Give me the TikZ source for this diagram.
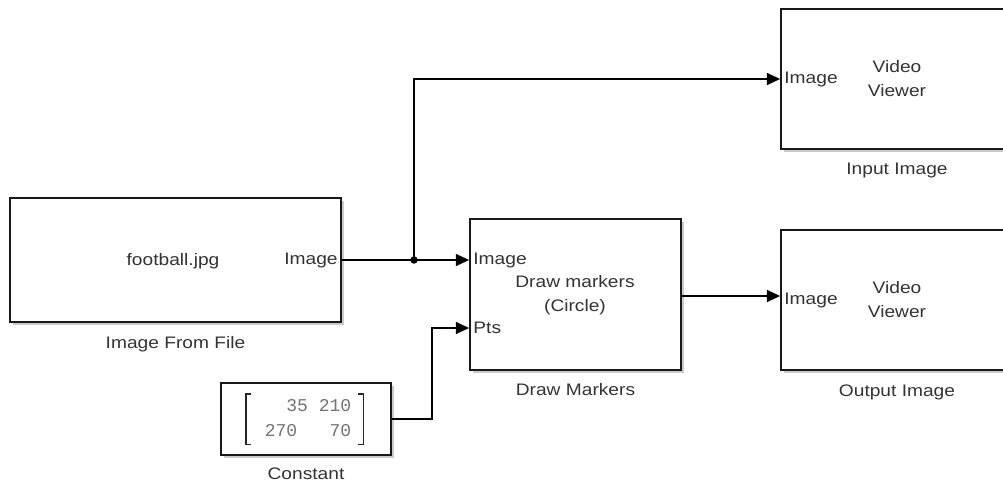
\documentclass[tikz,border=0pt]{standalone}
\usepackage{fontspec}
\setmainfont{Liberation Sans}[FakeStretch=1.15]
\newfontfamily\matfont{Liberation Mono}
\usetikzlibrary{arrows.meta, positioning, shadows}

\begin{document}
\begin{tikzpicture}[
    x=0.75pt, y=-0.75pt,
    node distance=0.5cm,
    % Style definitions
    block/.style={rectangle, draw=black!90, fill=white, line width=1.3pt, inner sep=0pt,
                  drop shadow={shadow xshift=2.2pt, shadow yshift=-2.2pt, opacity=0.35, fill=black!60}},
    caption/.style={font=\fontsize{12.5}{14}\selectfont, text=black!80, inner sep=0pt},
    body/.style={font=\fontsize{12.5}{18}\selectfont, text=black!80, align=center, inner sep=0pt},
    port/.style={font=\fontsize{12.5}{14}\selectfont, text=black!80, inner sep=3pt},
    wire/.style={-{Triangle[length=10pt, width=9pt]}, line width=1.2pt},
]
\clip (0,0) rectangle (1003,483);

% Blocks
\node[block, minimum width=248.25pt, minimum height=93pt] (file) at (175.5,260) {};
\node[block, minimum width=127.5pt, minimum height=54pt] (const) at (306,419) {};
\node[block, minimum width=158.25pt, minimum height=113.25pt] (draw) at (575.5,294.5) {};
\node[block, minimum width=174pt, minimum height=105pt] (inview) at (897,79) {};
\node[block, minimum width=174pt, minimum height=105pt] (outview) at (897,300) {};

% Captions
\node[caption, below=10pt of file] {Image From File};
\node[caption, below=9pt of const] {Constant};
\node[caption, below=9pt of draw] {Draw Markers};
\node[caption, below=10pt of inview] {Input Image};
\node[caption, below=10pt of outview] {Output Image};

% Block contents
\node[body] (fname) at (173,261) {football.jpg};
\node[port, anchor=east] (fileout) at (file.east) {Image};
\node[body] (dmtext) at (575,295) {Draw markers\\(Circle)};
\node[port, anchor=west] (dmimg) at (draw.west |- 0,260) {Image};
\node[port, anchor=west] (dmpts) at (draw.west |- 0,328) {Pts};
\node[body] (invtext) at (inview) {Video\\Viewer};
\node[port, anchor=west] (invimg) at (inview.west) {Image};
\node[body] (outtext) at (outview) {Video\\Viewer};
\node[port, anchor=west] (outimg) at (outview.west) {Image};

% Constant matrix
\node[inner sep=0pt, text=black!55, align=right,
      font=\matfont\fontsize{13.5}{18.5}\selectfont] (mtx) at (308,418)
      {35~210\\270~~~70};
\draw[line width=1pt, black!85] ([xshift=-10pt, yshift=4pt]mtx.north west) -- ++(-4pt,0)
      |- ([xshift=-10pt, yshift=-6pt]mtx.south west);
\draw[line width=1pt, black!85] ([xshift=5pt, yshift=4pt]mtx.north east) -- ++(4pt,0)
      |- ([xshift=5pt, yshift=-6pt]mtx.south east);

% Connectors
\coordinate (tap) at (414,260);
\coordinate (bend) at (432,328);
\coordinate (mid) at (681,296);
\draw[wire] (file.east |- tap) -- (tap -| draw.west);
\fill (tap) circle (2.8pt);
\draw[wire] (tap) |- (inview.west);
\draw[wire] (const.east) -| (bend) -- (bend -| draw.west);
\draw[wire] (draw.east |- mid) -- (mid -| outview.west);

\end{tikzpicture}
\end{document}
